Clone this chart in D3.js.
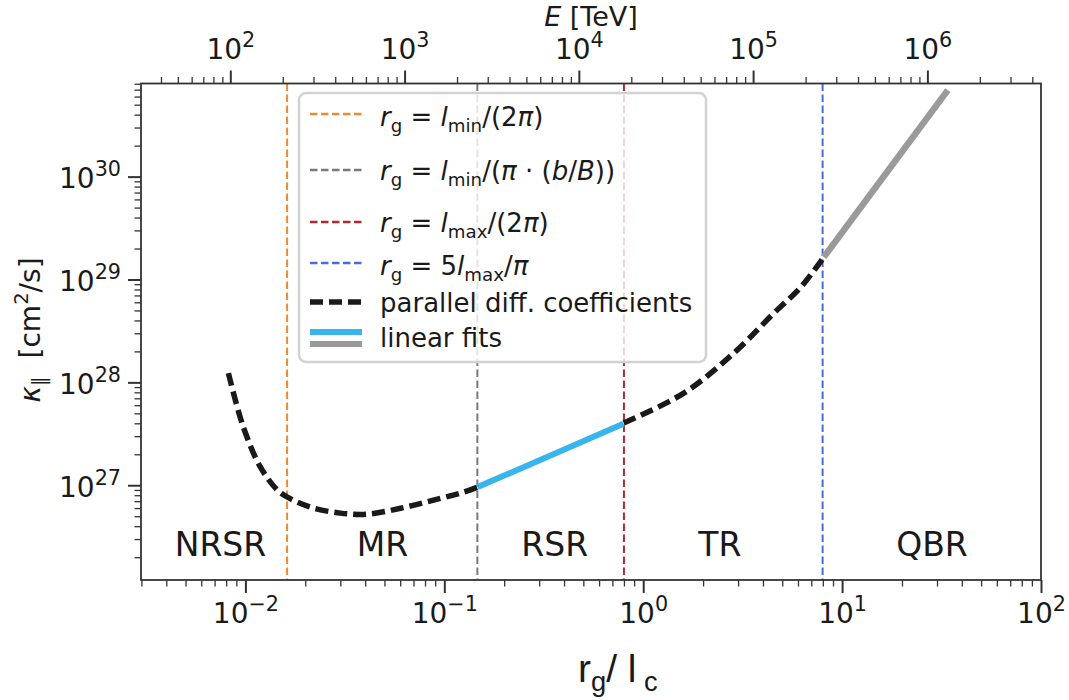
<!DOCTYPE html>
<html>
<head>
<meta charset="utf-8">
<script src="https://cdn.jsdelivr.net/npm/d3@7"></script>
<style>
    body { margin: 0; background: #fff; }
    text { font-family: "DejaVu Sans", sans-serif; fill: #1a1a1a; white-space: pre; }
</style>
</head>
<body>
<div id="chart"></div>
<script>

/* Data */

// parallel diffusion coefficient, low-energy branch (NRSR + MR)
var rgLow     = [0.00821, 0.00977, 0.0119, 0.01449, 0.01627, 0.02123, 0.03006, 0.0411, 0.0603, 0.0883, 0.125, 0.147];
var kappaLow  = [1.23e28, 3.66e27, 1.50e27, 8.96e26, 7.65e26, 6.12e26, 5.36e26, 5.24e26, 5.98e26, 7.16e26, 8.57e26, 9.59e26];

// parallel diffusion coefficient, TR branch
var rgHigh    = [0.798, 1.60, 2.85, 4.54, 6.20, 8.09];
var kappaHigh = [4.02e27, 7.86e27, 1.92e28, 4.71e28, 8.41e28, 1.65e29];

// linear fits (RSR and QBR)
var rgFitRSR    = [0.147, 0.795];
var kappaFitRSR = [9.59e26, 3.95e27];
var rgFitQBR    = [8.09, 34.0];
var kappaFitQBR = [1.65e29, 6.92e30];

// regime boundaries
var boundaryRg  = [0.0162, 0.1466, 0.800, 7.98];

// regime names and where they sit
var regimeNames = ["NRSR", "MR", "RSR", "TR", "QBR"];
var regimeRg    = [0.00749, 0.0489, 0.359, 2.43, 28.3];
var regimeKappa = 2.05e26;

// axis ticks (exponents)
var xTickExp   = [-2, -1, 0, 1, 2];
var yTickExp   = [27, 28, 29, 30];
var topTickExp = [2, 3, 4, 5, 6];

/* Layout */

var W = 1069, H = 700;
var plotLeft = 141, plotRight = 1041, plotTop = 83.5, plotBottom = 580;
var axisColor = "#333";
var ink = "#1a1a1a";

var svg = d3.select("#chart").append("svg")
    .attr("width", W)
    .attr("height", H);

var x    = d3.scaleLog().domain([Math.pow(10, -2.525), 100]).range([plotLeft, plotRight]);
var y    = d3.scaleLog().domain([Math.pow(10, 26.079), Math.pow(10, 30.905)]).range([plotBottom, plotTop]);
var xTop = d3.scaleLog().domain([Math.pow(10, 1.4875), Math.pow(10, 6.652)]).range([plotLeft, plotRight]);

// minor ticks 2..9 x 10^k inside a domain
function minorTicks(scale) {
    var d = scale.domain(), out = [];
    var lo = Math.floor(Math.log10(d[0])), hi = Math.ceil(Math.log10(d[1]));
    for (var k = lo; k <= hi; k++) {
        for (var m = 2; m <= 9; m++) {
            var v = m * Math.pow(10, k);
            if (v >= d[0] && v <= d[1]) out.push(v);
        }
    }
    return out;
}

function expLabel(e) {
    return e < 0 ? "\u2212" + Math.abs(e) : String(e);
}

// mixed math text: parts of {t, s} where s = i | sub | sup | r
function mathText(text, parts, fs, supScale) {
    var shift = 0, k = supScale || 0.7;
    parts.forEach(function (p) {
        var ts = text.append("tspan").text(p.t);
        var target = p.s === "sub" ? fs * 0.22 : (p.s === "sup" ? -fs * 0.42 : 0);
        if (target !== shift) ts.attr("dy", target - shift);
        shift = target;
        if (p.s === "sub" || p.s === "sup") ts.attr("font-size", fs * k);
        if (p.s === "i") ts.attr("font-style", "italic");
    });
}

/* Axes */

var tickFs = 28;

function drawAxis(axisFn, scale, exps, transform, labelSetup) {
    var g = svg.append("g").attr("transform", transform);
    var gMinor = g.append("g")
        .call(axisFn(scale).tickValues(minorTicks(scale)).tickSize(6.5).tickFormat(""));
    gMinor.selectAll(".tick line").attr("stroke", axisColor).attr("stroke-width", 1.3);

    var gMajor = g.append("g")
        .call(axisFn(scale).tickValues(exps.map(function (e) { return Math.pow(10, e); })).tickSize(13).tickFormat(""));
    gMajor.selectAll(".tick line").attr("stroke", axisColor).attr("stroke-width", 2);

    gMajor.selectAll(".tick text").each(function (d) {
        var t = d3.select(this)
            .attr("font-size", tickFs)
            .attr("font-family", "DejaVu Sans")
            .attr("fill", ink)
            .attr("dy", null);
        labelSetup(t);
        mathText(t, [{t: "10", s: "r"}, {t: expLabel(Math.round(Math.log10(d))), s: "sup"}], tickFs, 0.74);
    });
    g.selectAll(".domain").remove();
    return g;
}

drawAxis(d3.axisBottom, x, xTickExp, "translate(0," + plotBottom + ")", function (t) {
    t.attr("y", 43).attr("text-anchor", "middle");
});
drawAxis(d3.axisLeft, y, yTickExp, "translate(" + plotLeft + ",0)", function (t) {
    t.attr("x", -20).attr("y", 11).attr("text-anchor", "end");
});
drawAxis(d3.axisTop, xTop, topTickExp, "translate(0," + plotTop + ")", function (t) {
    t.attr("y", -25).attr("text-anchor", "middle");
});

/* Regime boundaries */

var boundaryColors = ["#ee8a32", "#7a7a7a", "#b02a2e", "#4a6be0"];
svg.selectAll("line.boundary")
    .data(boundaryRg)
    .enter().append("line")
    .attr("class", "boundary")
    .attr("x1", function (d) { return x(d); })
    .attr("x2", function (d) { return x(d); })
    .attr("y1", plotTop)
    .attr("y2", plotBottom)
    .attr("stroke", function (d, i) { return boundaryColors[i]; })
    .attr("stroke-width", 2)
    .attr("stroke-dasharray", "7.5 3.5");

/* Curves */

function pairs(xs, ys) {
    return xs.map(function (v, i) { return [v, ys[i]]; });
}

var curve = d3.line()
    .x(function (d) { return x(d[0]); })
    .y(function (d) { return y(d[1]); })
    .curve(d3.curveCatmullRom);

[pairs(rgLow, kappaLow), pairs(rgHigh, kappaHigh)].forEach(function (pts) {
    svg.append("path")
        .attr("d", curve(pts))
        .attr("fill", "none")
        .attr("stroke", ink)
        .attr("stroke-width", 5.5)
        .attr("stroke-dasharray", "13 6");
});

svg.append("path")
    .attr("d", curve(pairs(rgFitRSR, kappaFitRSR)))
    .attr("fill", "none")
    .attr("stroke", "#38b4ee")
    .attr("stroke-width", 6);

svg.append("path")
    .attr("d", curve(pairs(rgFitQBR, kappaFitQBR)))
    .attr("fill", "none")
    .attr("stroke", "#9a9a9a")
    .attr("stroke-width", 6.5);

/* Regime labels */

svg.selectAll("text.regime")
    .data(regimeNames)
    .enter().append("text")
    .attr("class", "regime")
    .attr("x", function (d, i) { return x(regimeRg[i]); })
    .attr("y", y(regimeKappa))
    .attr("text-anchor", "middle")
    .attr("font-size", 33)
    .text(function (d) { return d; });

/* Legend */

var legendFs = 26;
var lg = svg.append("g");
lg.append("rect")
    .attr("x", 299).attr("y", 93)
    .attr("width", 407).attr("height", 269)
    .attr("rx", 7)
    .attr("fill", "#fff").attr("fill-opacity", 0.8)
    .attr("stroke", "#d2d2d2").attr("stroke-width", 2.5);

var legendRows = [
    { y: 126, hy: 114, color: boundaryColors[0], dash: "7.5 3.5", w: 2.5, parts: [
        {t: "r", s: "i"}, {t: "g", s: "sub"}, {t: " = ", s: "r"}, {t: "l", s: "i"}, {t: "min", s: "sub"},
        {t: "/(2", s: "r"}, {t: "\u03c0", s: "i"}, {t: ")", s: "r"}] },
    { y: 180, hy: 170, color: boundaryColors[1], dash: "7.5 3.5", w: 2.5, parts: [
        {t: "r", s: "i"}, {t: "g", s: "sub"}, {t: " = ", s: "r"}, {t: "l", s: "i"}, {t: "min", s: "sub"},
        {t: "/(", s: "r"}, {t: "\u03c0", s: "i"}, {t: " \u00b7 (", s: "r"}, {t: "b", s: "i"}, {t: "/", s: "r"},
        {t: "B", s: "i"}, {t: "))", s: "r"}] },
    { y: 232, hy: 222, color: boundaryColors[2], dash: "7.5 3.5", w: 2.5, parts: [
        {t: "r", s: "i"}, {t: "g", s: "sub"}, {t: " = ", s: "r"}, {t: "l", s: "i"}, {t: "max", s: "sub"},
        {t: "/(2", s: "r"}, {t: "\u03c0", s: "i"}, {t: ")", s: "r"}] },
    { y: 275, hy: 263, color: boundaryColors[3], dash: "7.5 3.5", w: 2.5, parts: [
        {t: "r", s: "i"}, {t: "g", s: "sub"}, {t: " = 5", s: "r"}, {t: "l", s: "i"}, {t: "max", s: "sub"},
        {t: "/", s: "r"}, {t: "\u03c0", s: "i"}] },
    { y: 312, hy: 302, color: ink, dash: "13 6", w: 5.5, parts: [
        {t: "parallel diff. coefficients", s: "r"}] }
];

legendRows.forEach(function (r) {
    lg.append("line")
        .attr("x1", 310).attr("x2", 362)
        .attr("y1", r.hy).attr("y2", r.hy)
        .attr("stroke", r.color)
        .attr("stroke-width", r.w)
        .attr("stroke-dasharray", r.dash);
    var t = lg.append("text")
        .attr("x", 380).attr("y", r.y)
        .attr("font-size", legendFs);
    mathText(t, r.parts, legendFs);
});

// linear fits: two stacked handles
lg.append("line").attr("x1", 310).attr("x2", 362).attr("y1", 332).attr("y2", 332)
    .attr("stroke", "#38b4ee").attr("stroke-width", 6);
lg.append("line").attr("x1", 310).attr("x2", 362).attr("y1", 344).attr("y2", 344)
    .attr("stroke", "#9a9a9a").attr("stroke-width", 6);
lg.append("text").attr("x", 380).attr("y", 347).attr("font-size", legendFs).text("linear fits");

/* Frame */

svg.append("rect")
    .attr("x", plotLeft).attr("y", plotTop)
    .attr("width", plotRight - plotLeft).attr("height", plotBottom - plotTop)
    .attr("fill", "none")
    .attr("stroke", axisColor)
    .attr("stroke-width", 1.8);

/* Axis titles */

var topTitle = svg.append("text")
    .attr("x", (plotLeft + plotRight) / 2).attr("y", 26)
    .attr("text-anchor", "middle")
    .attr("font-size", 27);
mathText(topTitle, [{t: "E", s: "i"}, {t: " [TeV]", s: "r"}], 27);

var yTitle = svg.append("text")
    .attr("transform", "translate(40,330) rotate(-90)")
    .attr("text-anchor", "middle")
    .attr("font-size", 28);
mathText(yTitle, [{t: "\u03ba", s: "i"}, {t: "\u2225", s: "sub"}, {t: "  [cm", s: "r"}, {t: "2", s: "sup"}, {t: "/s]", s: "r"}], 28);

var xTitle = svg.append("text")
    .attr("x", 578).attr("y", 682)
    .style("font-family", "'Liberation Sans Narrow', 'Liberation Sans', Arial")
    .attr("font-size", 39);
mathText(xTitle, [{t: "r", s: "r"}, {t: "g", s: "sub"}, {t: "/ l", s: "r"}, {t: " c", s: "sub"}], 39);

</script>
</body>
</html>
